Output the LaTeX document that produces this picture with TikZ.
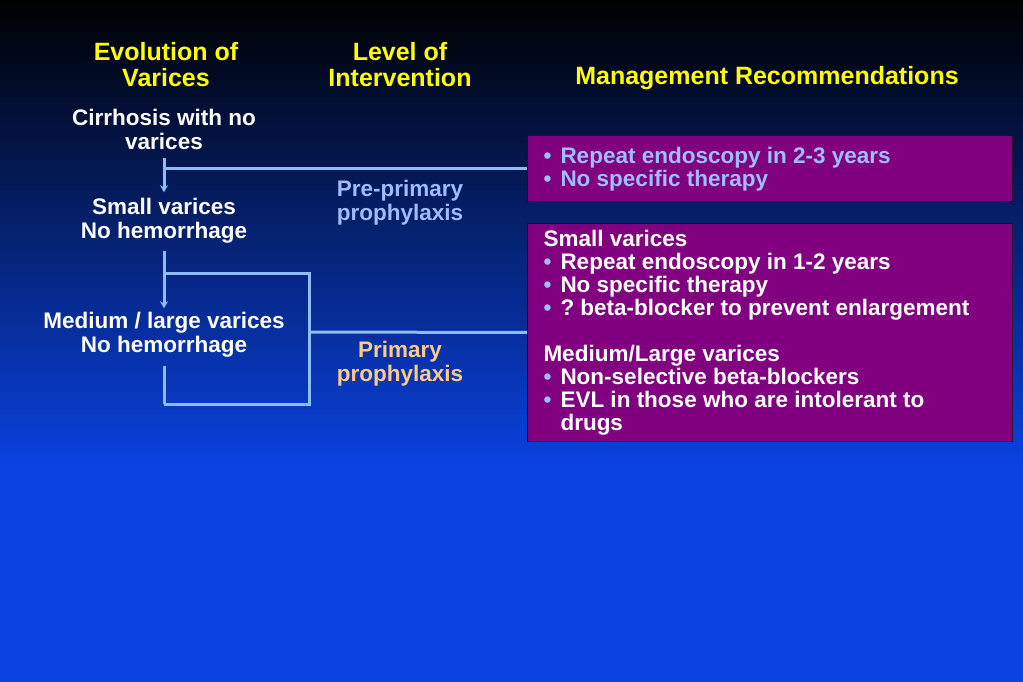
\documentclass[tikz,border=0pt]{standalone}
\usepackage{fontspec}
\setmainfont{Liberation Sans}
\usetikzlibrary{arrows.meta,positioning}

\definecolor{flowblue}{HTML}{8CBDF5}
\definecolor{preblue}{HTML}{9DBDFF}
\definecolor{primorange}{HTML}{FFC98A}
\definecolor{boxpurple}{HTML}{800080}
\definecolor{bgblue}{HTML}{0A42E2}
\definecolor{titleyellow}{HTML}{FFFF00}

\frenchspacing
\newcommand\bitem[1]{\par\hangindent=17pt\hangafter=1\noindent
  \makebox[17pt][l]{\textcolor{preblue}{\textbullet}}#1\par}

\tikzset{
  stage/.style={font=\fontsize{22.5}{24}\selectfont\bfseries, text=white, align=center, inner sep=0pt},
  heading/.style={font=\fontsize{25}{26}\selectfont\bfseries, text=titleyellow, align=center, inner sep=0pt},
  recbox/.style={draw=black!60!boxpurple, line width=1pt, fill=boxpurple, anchor=north west,
    font=\fontsize{22.5}{23}\selectfont\bfseries, text=white, align=flush left,
    text width=453pt, inner xsep=16pt, inner ysep=0pt},
  link/.style={draw=flowblue, line width=3pt},
  flow/.style={link, -{Stealth[length=7pt,width=8pt]}}
}

\begin{document}
\begin{tikzpicture}[x=1pt,y=-1pt]
\useasboundingbox (0,0) rectangle (1023,682);
% background
\shade[top color=black, bottom color=bgblue] (0,0) rectangle (1023,470);
\fill[bgblue] (0,469) rectangle (1023,682);

% column headings
\node[heading] (evo) at (166,65) {Evolution of\\Varices};
\node[heading] (lev) at (400,65) {Level of\\Intervention};
\node[heading] (man) at (767,78) {Management Recommendations};

% stages
\node[stage] (cirr) at (164,129) {Cirrhosis with no\\varices};
\node[stage] (small) at (164,221) {Small varices\\No hemorrhage};
\node[stage] (medium) at (164,335) {Medium / large varices\\No hemorrhage};

% interventions
\node[stage, text=preblue] (pre) at (400,203) {Pre-primary\\prophylaxis};
\node[stage, text=primorange] (prim) at (400,364) {Primary\\prophylaxis};

% recommendations
\node[recbox, minimum height=66pt, text=preblue] (box1) at (527,135)
  {\bitem{Repeat endoscopy in 2-3 years}\bitem{No specific therapy}\vspace{6pt}};
\node[recbox, minimum height=218pt] (box2) at (527,223)
  {Small varices
   \bitem{Repeat endoscopy in 1-2 years}
   \bitem{No specific therapy}
   \bitem{? beta-blocker to prevent enlargement}
   \vspace{23pt}\noindent Medium/Large varices
   \bitem{Non-selective beta-blockers}
   \bitem{EVL in those who are intolerant to\newline drugs}};

% connectors
\coordinate (split) at (cirr.south |- box1.west);
\coordinate (brtop) at (164,273);
\coordinate (brbot) at (164,404);
\coordinate (brright) at (309,332);
\draw[flow] ([yshift=-9pt]cirr.south) -- ([yshift=6pt]small.north);
\draw[link] (box1.west) -- (split);
\draw[flow] ([yshift=-7pt]small.south) -- ([yshift=4pt]medium.north);
\draw[link] (brtop) -| (brright) |- (brbot);
\draw[link] ([yshift=-8pt]medium.south) -- (brbot);
\draw[link] (brright) -- (box2.west);
\end{tikzpicture}
\end{document}
